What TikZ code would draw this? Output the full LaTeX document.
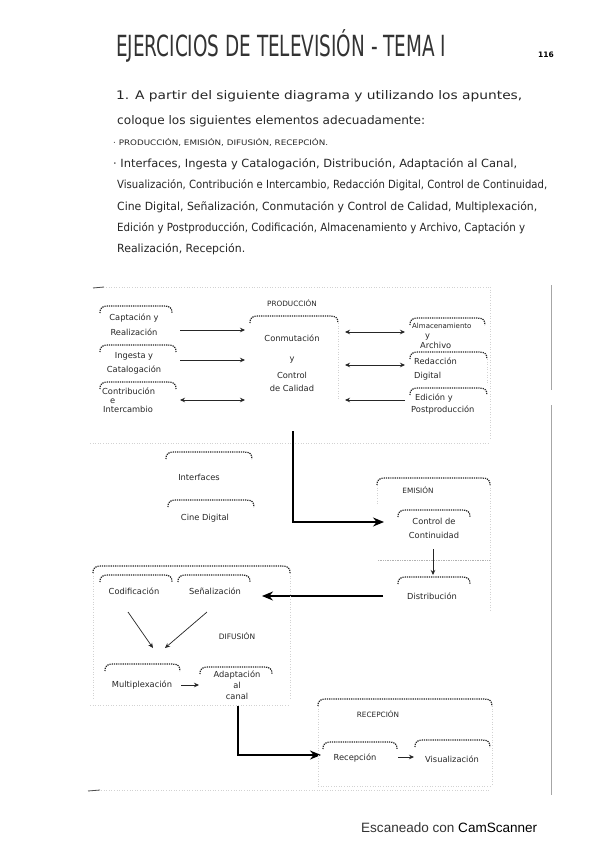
\documentclass[tikz,border=0pt]{standalone}
\usepackage{fontspec}
\usepackage{graphicx}
\setmainfont{DejaVu Sans}
\newfontfamily\scanfont{Liberation Sans}
\usetikzlibrary{arrows.meta}
\newcommand\hcap[3]{\draw[capline] (#1,#3+7) .. controls (#1,#3+2) and (#1+2,#3) .. (#1+8,#3) -- (#2-8,#3) .. controls (#2-2,#3) and (#2,#3+2) .. (#2,#3+7);}
\newcommand\fitl[3]{\resizebox{#1pt}{#2pt}{\fontsize{10}{12}\selectfont #3}}
\begin{document}
\begin{tikzpicture}[x=1pt,y=-1pt,
  para/.style={anchor=west, inner sep=0pt, text=black!85},
  lbl/.style={font=\fontsize{8.3}{12}\selectfont, text=black!85, inner sep=0pt, align=center},
  caps/.style={font=\fontsize{7.3}{8}\selectfont, text=black!85, inner sep=0pt},
  capline/.style={line width=1.2pt, densely dotted, black!85},
  faintline/.style={gray!35, dotted, line width=0.6pt},
  arr/.style={-{Stealth[length=5pt,width=4.5pt]}, line width=0.7pt, black!85},
  darr/.style={{Stealth[length=5pt,width=4.5pt]}-{Stealth[length=5pt,width=4.5pt]}, line width=0.7pt, black!85},
  bigarr/.style={-{Stealth[length=11pt,width=9pt]}, line width=1.5pt, black}]
\useasboundingbox (0,0) rectangle (599,848);
\fill[white] (0,0) rectangle (599,848);

% ---------- header ----------
\node[para, text=black!80] (title) at (116,46) {\resizebox{330pt}{27pt}{\fontsize{20}{20}\selectfont EJERCICIOS DE TELEVISIÓN - TEMA I}};
\node[inner sep=0pt, font=\fontsize{7.5}{8}\selectfont\bfseries] (pg) at (546,55) {116};

\node[para] (l1) at (116,96) {\fitl{406}{9}{1. A partir del siguiente diagrama y utilizando los apuntes,}};
\node[para] (l2) at (117,121) {\fitl{308}{9}{coloque los siguientes elementos adecuadamente:}};
\node[para] (l3) at (113,142) {\fitl{215}{7}{· PRODUCCIÓN, EMISIÓN, DIFUSIÓN, RECEPCIÓN.}};
\node[para] (l4) at (113,164) {\fitl{404}{9}{· Interfaces, Ingesta y Catalogación, Distribución, Adaptación al Canal,}};
\node[para] (l5) at (117,185) {\fitl{430}{9}{Visualización, Contribución e Intercambio, Redacción Digital, Control de Continuidad,}};
\node[para] (l6) at (117,207) {\fitl{420}{9}{Cine Digital, Señalización, Conmutación y Control de Calidad, Multiplexación,}};
\node[para] (l7) at (117,228) {\fitl{408}{9}{Edición y Postproducción, Codificación, Almacenamiento y Archivo, Captación y}};
\node[para] (l8) at (117,249) {\fitl{128}{9}{Realización, Recepción.}};

% ---------- frame lines ----------
\draw[faintline] (93,287) -- (490,287);
\draw[black!70, line width=0.8pt] (93,288) -- (104,287);
\draw[faintline] (490,287) -- (490,440);
\draw[faintline] (90,443) -- (490,443);
\draw[faintline] (88,790) -- (490,790);
\draw[black!70, line width=0.8pt] (88,791) -- (100,790);
\draw[gray!70, line width=1pt] (551,285) -- (551,390);
\draw[gray!70, line width=1pt] (551,405) -- (551,795);

% ---------- PRODUCCION ----------
\node[caps] (prod) at (292,303) {PRODUCCIÓN};
\hcap{250}{338}{316}
\draw[faintline] (338,323) -- (338,400);
\node[lbl] (conm) at (292,363) {Conmutación\\[8pt]y\\[5pt]Control\\[1pt]de Calidad};

\hcap{100}{172}{306}
\node[lbl] (capt) at (134,325) {Captación y\\[3pt]Realización};
\hcap{100}{176}{345}
\node[lbl] (inge) at (134,363) {Ingesta y\\[2pt]Catalogación};
\hcap{100}{176}{382}
\node[lbl, anchor=west, align=left] (cont) at (102,400) {Contribución\\[-3pt]\hspace*{8pt}e\\[-3pt]\hspace*{1pt}Intercambio};

\hcap{410}{485}{318}
\node[lbl, anchor=west, align=left] (alma) at (412,336) {{\fontsize{7}{9}\selectfont Almacenamiento}\\[-2pt]\hspace*{13pt}y\\[-2pt]\hspace*{8pt}Archivo};
\hcap{410}{487}{352}
\draw[faintline] (487,359) -- (487,385);
\node[lbl, anchor=west, align=left] (reda) at (414,369) {Redacción\\[2pt]Digital};
\hcap{410}{487}{388}
\node[lbl, anchor=west, align=left] (edic) at (411,404) {\hspace*{4pt}Edición y\\[0pt]Postproducción};

\coordinate (a1s) at (180,330); \coordinate (a1e) at (245,330);
\coordinate (a2s) at (180,360); \coordinate (a2e) at (245,360);
\coordinate (a3s) at (180,400); \coordinate (a3e) at (245,400);
\draw[arr] (a1s) -- (a1e);
\draw[arr] (a2s) -- (a2e);
\draw[darr] (a3s) -- (a3e);
\coordinate (b1s) at (345,332); \coordinate (b1e) at (405,332);
\coordinate (b2s) at (345,365); \coordinate (b2e) at (405,365);
\coordinate (b3s) at (405,400); \coordinate (b3e) at (345,400);
\draw[darr] (b1s) -- (b1e);
\draw[darr] (b2s) -- (b2e);
\draw[arr] (b3s) -- (b3e);

% ---------- Interfaces / Cine digital ----------
\hcap{166}{252}{452}
\node[lbl] (intf) at (199,477) {Interfaces};
\hcap{168}{254}{500}
\node[lbl] (cine) at (205,518) {Cine Digital};

% ---------- EMISION ----------
\hcap{377}{490}{478}
\draw[faintline] (490,485) -- (490,610);
\draw[faintline] (377,485) -- (377,505);
\node[caps] (emis) at (418,490) {EMISIÓN};
\hcap{398}{470}{510}
\node[lbl] (cdc) at (434,528) {Control de\\[2pt]Continuidad};
\draw[gray!60, densely dotted, line width=0.7pt] (378,560) -- (490,560);
\hcap{398}{470}{577}
\node[lbl] (dist) at (432,596) {Distribución};
\coordinate (e1s) at (433,549); \coordinate (e1e) at (433,575);
\draw[arr] (e1s) -- (e1e);

\coordinate (conmbot) at (293,431); \coordinate (emin) at (384,522);
\draw[bigarr] (conmbot) |- (emin);
\coordinate (distw) at (383,596); \coordinate (difin) at (262,596);
\draw[bigarr] (distw) -- (difin);

% ---------- DIFUSION ----------
\hcap{93}{290}{566}
\draw[faintline] (290,573) -- (290,700);
\draw[faintline] (93,573) -- (93,700);
\draw[faintline] (90,705) -- (290,705);
\hcap{100}{172}{575}
\hcap{178}{250}{575}
\node[lbl] (cod) at (134,591) {Codificación};
\node[lbl] (sen) at (215,591) {Señalización};
\node[caps, font=\fontsize{7.5}{8}\selectfont] (difu) at (237,636) {DIFUSIÓN};
\hcap{105}{180}{664}
\node[lbl] (mult) at (142,685) {Multiplexación};
\hcap{200}{272}{667}
\node[lbl] (adap) at (237,685) {Adaptación\\[-1pt]al\\[-1pt]canal};
\coordinate (c1s) at (128,612); \coordinate (c1e) at (153,648);
\coordinate (c2s) at (207,612); \coordinate (c2e) at (165,648);
\draw[arr] (c1s) -- (c1e);
\draw[arr] (c2s) -- (c2e);
\coordinate (m1s) at (181,685); \coordinate (m1e) at (199,685);
\draw[arr] (m1s) -- (m1e);

\coordinate (adapbot) at (238,706); \coordinate (recin) at (321,755);
\draw[bigarr] (adapbot) |- (recin);

% ---------- RECEPCION ----------
\hcap{318}{492}{699}
\draw[faintline] (318,706) -- (318,786);
\draw[faintline] (492,706) -- (492,786);
\draw[faintline] (318,786) -- (492,786);
\node[caps] (rece) at (378,714) {RECEPCIÓN};
\hcap{323}{397}{742}
\node[lbl] (recp) at (355,758) {Recepción};
\hcap{415}{490}{740}
\node[lbl] (vis) at (452,759) {Visualización};
\coordinate (r1s) at (398,757); \coordinate (r1e) at (414,757);
\draw[arr] (r1s) -- (r1e);

% ---------- footer ----------
\node[anchor=west, inner sep=0pt] (scan) at (361,828) {\resizebox{176pt}{!}{\scanfont\fontsize{14}{14}\selectfont\color{black!80}Escaneado con \color{black}CamScanner}};
\end{tikzpicture}
\end{document}
